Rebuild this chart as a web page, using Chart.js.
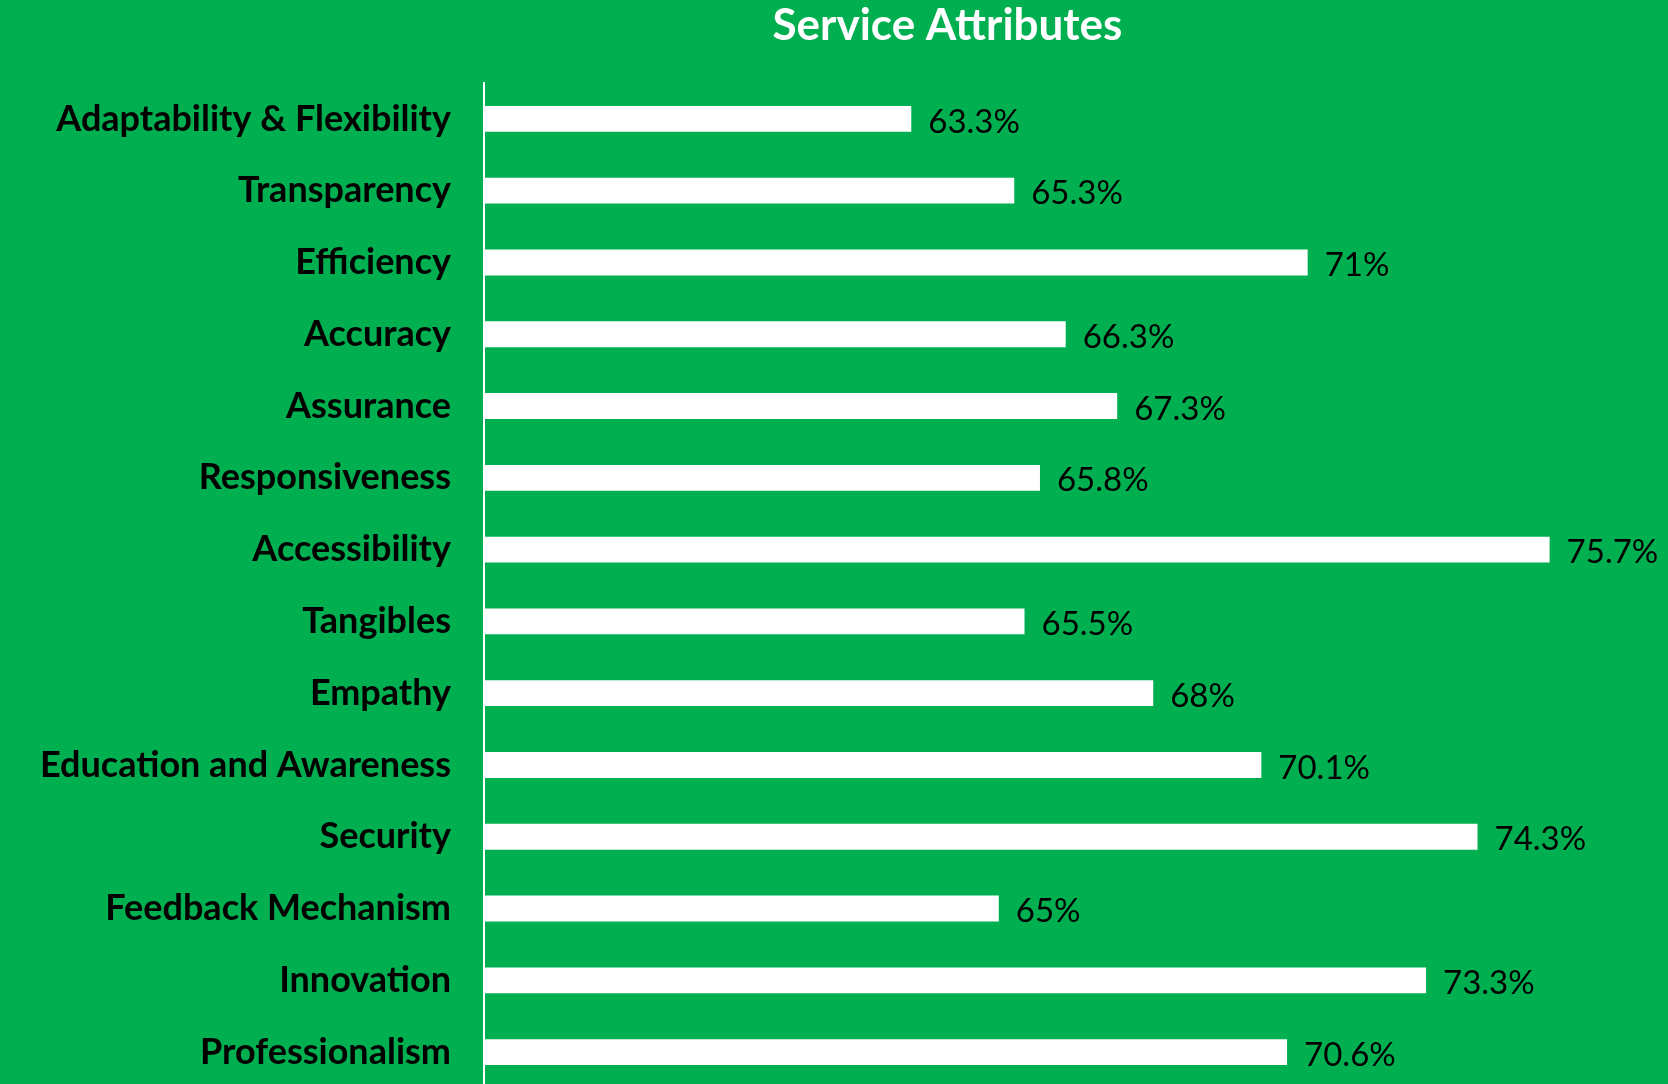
<!DOCTYPE html>
<html>
<head>
<meta charset="utf-8">
<script src="https://cdn.jsdelivr.net/npm/chart.js@4/dist/chart.umd.min.js"></script>
<style>
  html, body { margin: 0; padding: 0; overflow: hidden; background: #00AF50; }
</style>
</head>
<body>
<canvas id="barchart" width="1668" height="1088"></canvas>
<script>
const chartTitle = 'Service Attributes';
const labels = ['Adaptability & Flexibility', 'Transparency', 'Efficiency', 'Accuracy', 'Assurance',
  'Responsiveness', 'Accessibility', 'Tangibles', 'Empathy', 'Education and Awareness', 'Security',
  'Feedback Mechanism', 'Innovation', 'Professionalism'];
const scores = [63.3, 65.3, 71, 66.3, 67.3, 65.8, 75.7, 65.5, 68, 70.1, 74.3, 65, 73.3, 70.6];
const scoreLabels = ['63.3%', '65.3%', '71%', '66.3%', '67.3%', '65.8%', '75.7%', '65.5%', '68%',
  '70.1%', '74.3%', '65%', '73.3%', '70.6%'];

// Value text at the end of every bar
const valueLabels = {
  id: 'valueLabels',
  afterDatasetsDraw(chart) {
    const ctx = chart.ctx;
    const meta = chart.getDatasetMeta(0);
    ctx.save();
    ctx.font = '33px Lato, sans-serif';
    ctx.fillStyle = '#000';
    ctx.textAlign = 'left';
    ctx.textBaseline = 'middle';
    meta.data.forEach((bar, i) => {
      ctx.fillText(scoreLabels[i], bar.x + 17, bar.y + 3);
    });
    ctx.restore();
  }
};

// Title is centred over the plot rather than the whole canvas
const plotTitle = {
  id: 'plotTitle',
  afterDraw(chart) {
    const ctx = chart.ctx;
    ctx.save();
    ctx.font = 'bold 44px Lato, sans-serif';
    ctx.fillStyle = '#fff';
    ctx.textAlign = 'center';
    ctx.textBaseline = 'middle';
    ctx.fillText(chartTitle, chart.width * 0.568, 26);
    ctx.restore();
  }
};

new Chart(
  document.getElementById('barchart'),
  {
    type: 'bar',
    data: {
      labels: labels,
      datasets: [{
        data: scores,
        backgroundColor: '#ffffff',
        borderWidth: 0,
        categoryPercentage: 1,
        barPercentage: 0.36
      }]
    },
    options: {
      indexAxis: 'y',
      responsive: false,
      animation: false,
      layout: { padding: { top: 83, right: 0, bottom: 0, left: 0 } },
      plugins: {
        legend: { display: false },
        title: { display: false },
        tooltip: { enabled: false }
      },
      scales: {
        x: {
          display: false,
          min: 55,
          max: 78
        },
        y: {
          afterFit(scale) {
            scale.width = 484;
            scale.paddingTop = 0;
            scale.paddingBottom = 0;
          },
          grid: { display: false, drawTicks: false },
          border: { display: true, color: '#ffffff', width: 2 },
          ticks: {
            color: '#000',
            padding: 33,
            font: { family: 'Lato, sans-serif', size: 36, weight: 'bold' }
          }
        }
      }
    },
    plugins: [valueLabels, plotTitle]
  }
);
</script>
</body>
</html>
